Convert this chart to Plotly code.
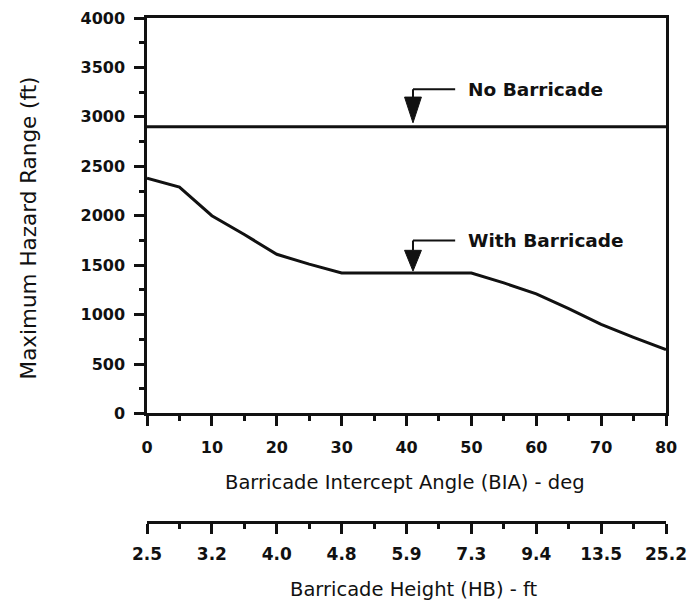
import plotly.graph_objects as go

# ---- data ----
angles = [0, 5, 10, 15, 20, 25, 30, 40, 50, 55, 60, 65, 70, 75, 80]
with_barricade = [2380, 2290, 2000, 1810, 1610, 1510, 1420, 1420, 1420, 1320, 1210, 1060, 900, 770, 645]
no_barricade_x = [0, 80]
no_barricade_y = [2900, 2900]

angle_ticks = [0, 10, 20, 30, 40, 50, 60, 70, 80]
angle_minor = [5, 15, 25, 35, 45, 55, 65, 75]
height_labels = ["2.5", "3.2", "4.0", "4.8", "5.9", "7.3", "9.4", "13.5", "25.2"]
y_ticks = [0, 500, 1000, 1500, 2000, 2500, 3000, 3500, 4000]
y_minor = [250, 750, 1250, 1750, 2250, 2750, 3250, 3750]

arrow_x = 41
no_label = "No Barricade"
with_label = "With Barricade"

FONT = "DejaVu Sans, Liberation Sans, Arial, sans-serif"
BLK = "#111111"

fig = go.Figure()
fig.add_trace(go.Scatter(x=no_barricade_x, y=no_barricade_y, mode="lines",
                         line=dict(color=BLK, width=3.2), showlegend=False, hoverinfo="skip"))
fig.add_trace(go.Scatter(x=angles, y=with_barricade, mode="lines",
                         line=dict(color=BLK, width=3), showlegend=False))
# trace on the second (height) x axis so it is drawn
fig.add_trace(go.Scatter(x=[0, 80], y=[None, None], xaxis="x2", yaxis="y",
                         mode="lines", showlegend=False, hoverinfo="skip"))


def elbow(elbow_y, tri_top, tip, label):
    fig.add_shape(type="line", x0=arrow_x, x1=arrow_x + 6.5, y0=elbow_y, y1=elbow_y,
                  line=dict(color=BLK, width=2))
    fig.add_shape(type="line", x0=arrow_x, x1=arrow_x, y0=elbow_y, y1=tri_top,
                  line=dict(color=BLK, width=2))
    fig.add_shape(type="path",
                  path=f"M {arrow_x-1.3} {tri_top} L {arrow_x+1.3} {tri_top} L {arrow_x} {tip} Z",
                  fillcolor=BLK, line=dict(color=BLK, width=1))
    fig.add_annotation(x=arrow_x + 8.2, y=elbow_y, text=label, showarrow=False,
                       xanchor="left", yanchor="middle",
                       font=dict(family=FONT, size=18.5, color=BLK, weight="bold"))


elbow(3280, 3200, 2940, no_label)
elbow(1750, 1650, 1440, with_label)

axis_common = dict(showgrid=False, zeroline=False, linecolor=BLK, linewidth=2.5,
                   ticks="outside", tickcolor=BLK, tickwidth=2.5, ticklen=10,
                   ticklabeloverflow="allow")
minor_common = dict(ticklen=5, tickwidth=2.5, tickcolor=BLK, ticks="outside")

# the page body adds an 8px margin, so the figure is sized and placed to compensate
fig.update_layout(
    width=683, height=595,
    margin=dict(l=138.5, r=24.5, t=10, b=80.7, autoexpand=False),
    paper_bgcolor="white", plot_bgcolor="white",
    font=dict(family=FONT, color=BLK),
    xaxis=dict(range=[0, 80], tickvals=angle_ticks, mirror=True,
               minor=dict(tickvals=angle_minor, **minor_common),
               tickfont=dict(size=16, family=FONT, weight="bold"),
               ticklabelstandoff=8, anchor="y", **axis_common),
    xaxis2=dict(range=[0, 80], tickvals=angle_ticks, ticktext=height_labels,
                overlaying="x", anchor="free", position=0, side="bottom",
                minor=dict(tickvals=angle_minor, **minor_common),
                tickfont=dict(size=17, family=FONT, weight="bold"),
                ticklabelstandoff=6, **axis_common),
    yaxis=dict(range=[0, 4000], domain=[0.2154, 1], tickvals=y_ticks, mirror=True,
               minor=dict(tickvals=y_minor, **minor_common),
               tickfont=dict(size=16, family=FONT, weight="bold"),
               ticklabelstandoff=6, **axis_common),
)

fig.add_annotation(text="Barricade Intercept Angle (BIA) - deg", xref="paper", yref="paper",
                   x=0.4971, y=0.0783, showarrow=False, xanchor="center", yanchor="middle",
                   font=dict(family=FONT, size=19.5, color=BLK))
fig.add_annotation(text="Barricade Height (HB) - ft", xref="paper", yref="paper",
                   x=0.5144, y=-0.1335, showarrow=False, xanchor="center", yanchor="middle",
                   font=dict(family=FONT, size=19.5, color=BLK))
fig.add_annotation(text="Maximum Hazard Range (ft)", xref="paper", yref="paper",
                   x=-0.228, y=0.5839, showarrow=False, textangle=-90,
                   xanchor="center", yanchor="middle",
                   font=dict(family=FONT, size=21.5, color=BLK))

fig.write_html("out.html")
